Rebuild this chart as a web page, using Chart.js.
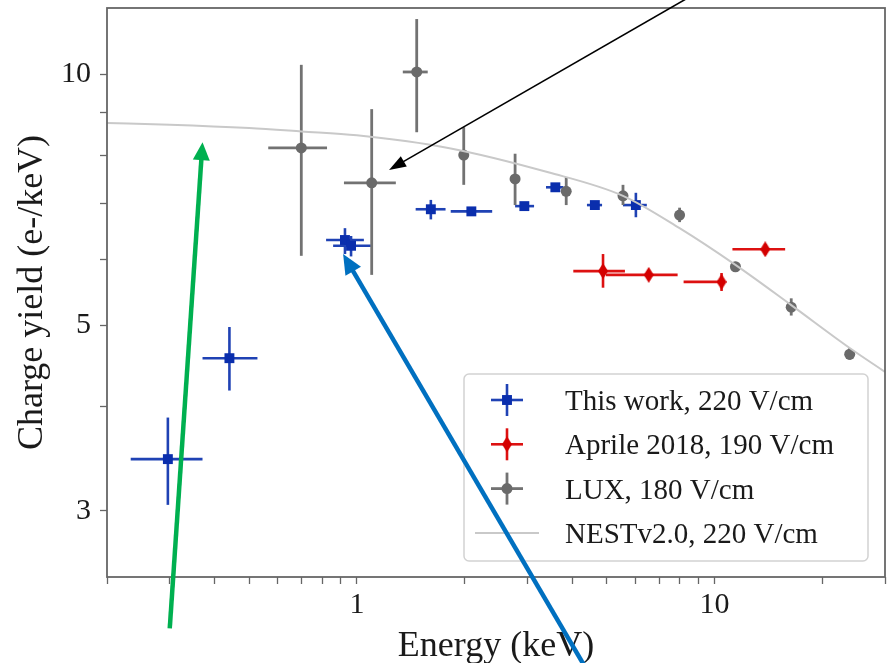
<!DOCTYPE html>
<html><head><meta charset="utf-8">
<script src="https://cdn.jsdelivr.net/npm/chart.js@4/dist/chart.umd.min.js"></script>
<style>html,body{margin:0;padding:0;background:#fff}#wrap{width:893px;height:663px}</style>
</head><body><div id="wrap"><canvas id="c" width="893" height="663"></canvas></div>
<script>
// ---- Data (energy in keV, charge yield in e-/keV) ----
const thisWorkE      = [0.296, 0.440, 0.926, 0.963, 1.61, 2.09, 2.94, 3.59, 4.63, 6.03];
const thisWorkELow   = [0.233, 0.370, 0.820, 0.858, 1.46, 1.83, 2.77, 3.38, 4.40, 5.55];
const thisWorkEHigh  = [0.370, 0.527, 1.046, 1.094, 1.77, 2.39, 3.13, 3.78, 4.85, 6.47];
const thisWorkQy     = [3.46, 4.57, 6.33, 6.23, 6.89, 6.85, 6.95, 7.32, 6.97, 6.97];
const thisWorkQyLow  = [3.05, 4.18, 6.09, 6.05, 6.70, 6.80, 6.90, 7.26, 6.92, 6.74];
const thisWorkQyHigh = [3.88, 4.98, 6.54, 6.40, 7.07, 6.90, 7.00, 7.38, 7.02, 7.21];

const aprileE      = [4.88, 6.55, 10.47, 13.87];
const aprileELow   = [4.03, 4.97, 8.20, 11.23];
const aprileEHigh  = [5.62, 7.89, 10.67, 15.77];
const aprileQy     = [5.81, 5.75, 5.64, 6.17];
const aprileQyLow  = [5.55, 5.69, 5.50, 6.08];
const aprileQyHigh = [6.09, 5.81, 5.78, 6.26];

const luxE      = [0.699, 1.10, 1.47, 1.99, 2.77, 3.85, 5.55, 7.99, 11.45, 16.4, 23.9];
const luxELow   = [0.565, 0.92, 1.344, 1.99, 2.77, 3.85, 5.55, 7.99, 11.45, 16.4, 23.9];
const luxEHigh  = [0.825, 1.285, 1.578, 1.99, 2.77, 3.85, 5.55, 7.99, 11.45, 16.4, 23.9];
const luxQy     = [8.16, 7.41, 10.06, 8.00, 7.49, 7.24, 7.15, 6.78, 5.88, 5.26, 4.62];
const luxQyLow  = [6.06, 5.75, 8.52, 7.37, 6.97, 6.97, 6.97, 6.65, 5.80, 5.14, 4.55];
const luxQyHigh = [10.26, 9.08, 11.64, 8.64, 8.03, 7.53, 7.37, 6.92, 5.96, 5.39, 4.70];

const nestE  = [0.2, 0.3, 0.5, 0.7, 1.0, 1.8, 3.43, 5.55, 7.99, 11.45, 16.4, 23.9, 30];
const nestQy = [8.74, 8.70, 8.62, 8.54, 8.45, 8.16, 7.63, 7.15, 6.54, 5.91, 5.29, 4.70, 4.40];

const xTickValues = [0.2, 0.3, 0.4, 0.5, 0.6, 0.7, 0.8, 0.9, 1, 2, 3, 4, 5, 6, 7, 8, 9, 10, 20, 30];
const xTickLabels = ['', '', '', '', '', '', '', '', '1', '', '', '', '', '', '', '', '', '10', '', ''];
const yTickValues = [3, 4, 5, 6, 7, 8, 9, 10];
const yTickLabels = ['3', '', '5', '', '', '', '', '10'];

// annotation arrows (data coordinates: tail -> tip)
const arrowTailE  = [0.2996, 4.35, 8.6];
const arrowTailQy = [2.17, 1.95, 12.4];
const arrowTipE   = [0.370, 0.915, 1.23];
const arrowTipQy  = [8.29, 6.09, 7.68];

// ---- Styles ----
const serif = '"Liberation Serif", "Times New Roman", Times, serif';
const textColor = '#1a1a1a';
const axisColor = '#666666';
const arrowStyles = [
  {color: '#00b050', width: 4.5, headLen: 18, headWidth: 17},
  {color: '#0070c0', width: 4.5, headLen: 20, headWidth: 18},
  {color: '#000000', width: 1.6, headLen: 17, headWidth: 12}
];

function thinDiamond(color) {
  const c = document.createElement('canvas');
  c.width = 10; c.height = 16;
  const g = c.getContext('2d');
  g.fillStyle = color;
  g.beginPath(); g.moveTo(5, 0); g.lineTo(10, 8); g.lineTo(5, 16); g.lineTo(0, 8); g.closePath(); g.fill();
  return c;
}
const diamondImg = thinDiamond('#d40000');

function pts(xs, ys) { return xs.map((v, i) => ({x: v, y: ys[i]})); }

function drawMarker(ctx, ds, x, y) {
  ctx.save();
  ctx.fillStyle = ds.backgroundColor;
  const st = ds.pointStyle, r = ds.pointRadius;
  if (st === 'rect') {
    const s = r * Math.SQRT1_2;
    ctx.fillRect(x - s, y - s, 2 * s, 2 * s);
  } else if (st === 'circle') {
    ctx.beginPath(); ctx.arc(x, y, r, 0, Math.PI * 2); ctx.fill();
  } else if (st instanceof HTMLCanvasElement) {
    ctx.drawImage(st, x - st.width / 2, y - st.height / 2);
  }
  ctx.restore();
}

const errorBarPlugin = {
  id: 'errbars',
  beforeDatasetDraw(chart, args) {
    const ds = chart.data.datasets[args.index];
    if (!ds.errors) return;
    const {ctx, chartArea: a} = chart;
    const xs = chart.scales.x, ys = chart.scales.y, e = ds.errors;
    ctx.save();
    ctx.beginPath(); ctx.rect(a.left, a.top, a.right - a.left, a.bottom - a.top); ctx.clip();
    ctx.strokeStyle = ds.errorColor; ctx.lineWidth = ds.errorWidth;
    ds.data.forEach((p, i) => {
      const px = xs.getPixelForValue(p.x), py = ys.getPixelForValue(p.y);
      if (e.xLow[i] !== e.xHigh[i]) {
        ctx.beginPath();
        ctx.moveTo(xs.getPixelForValue(e.xLow[i]), py);
        ctx.lineTo(xs.getPixelForValue(e.xHigh[i]), py);
        ctx.stroke();
      }
      if (e.yLow[i] !== e.yHigh[i]) {
        ctx.beginPath();
        ctx.moveTo(px, ys.getPixelForValue(e.yLow[i]));
        ctx.lineTo(px, ys.getPixelForValue(e.yHigh[i]));
        ctx.stroke();
      }
    });
    ctx.restore();
  }
};

const framePlugin = {
  id: 'frame',
  afterDatasetsDraw(chart) {
    const {ctx, chartArea: a} = chart;
    ctx.save();
    ctx.strokeStyle = axisColor; ctx.lineWidth = 1.8;
    ctx.strokeRect(a.left, a.top, a.right - a.left, a.bottom - a.top);
    ctx.restore();
  }
};

const legendPlugin = {
  id: 'customLegend',
  afterDraw(chart) {
    const {ctx, chartArea: a} = chart;
    const w = 404, h = 187;
    const right = a.right - 17, bottom = a.bottom - 16;
    const left = right - w, top = bottom - h;
    ctx.save();
    ctx.beginPath();
    if (ctx.roundRect) ctx.roundRect(left, top, w, h, 5); else ctx.rect(left, top, w, h);
    ctx.fillStyle = 'rgba(255,255,255,0.85)'; ctx.fill();
    ctx.strokeStyle = '#d2d2d2'; ctx.lineWidth = 1.5; ctx.stroke();
    ctx.font = '29px ' + serif; ctx.fillStyle = textColor; ctx.textBaseline = 'alphabetic'; ctx.textAlign = 'left';
    chart.data.datasets.forEach((ds, i) => {
      const cy = top + 26 + i * 44.3;
      const cx = left + 43;
      if (ds.errors) {
        ctx.strokeStyle = ds.errorColor; ctx.lineWidth = ds.errorWidth;
        ctx.beginPath(); ctx.moveTo(cx - 16, cy); ctx.lineTo(cx + 16, cy); ctx.stroke();
        ctx.beginPath(); ctx.moveTo(cx, cy - 16); ctx.lineTo(cx, cy + 16); ctx.stroke();
        drawMarker(ctx, ds, cx, cy);
      } else {
        ctx.strokeStyle = ds.borderColor; ctx.lineWidth = ds.borderWidth;
        ctx.beginPath(); ctx.moveTo(left + 11, cy); ctx.lineTo(left + 75, cy); ctx.stroke();
      }
      ctx.fillStyle = textColor;
      ctx.fillText(ds.label, left + 101, cy + 10);
    });
    ctx.restore();
  }
};

const arrowPlugin = {
  id: 'arrows',
  afterDraw(chart) {
    const {ctx} = chart;
    const xs = chart.scales.x, ys = chart.scales.y;
    ctx.save();
    arrowTipE.forEach((_, i) => {
      const st = arrowStyles[i];
      const x0 = xs.getPixelForValue(arrowTailE[i]), y0 = ys.getPixelForValue(arrowTailQy[i]);
      const x1 = xs.getPixelForValue(arrowTipE[i]), y1 = ys.getPixelForValue(arrowTipQy[i]);
      const dx = x1 - x0, dy = y1 - y0, L = Math.hypot(dx, dy);
      const ux = dx / L, uy = dy / L;
      const bx = x1 - ux * st.headLen, by = y1 - uy * st.headLen;
      ctx.strokeStyle = st.color; ctx.fillStyle = st.color; ctx.lineWidth = st.width;
      ctx.beginPath(); ctx.moveTo(x0, y0); ctx.lineTo(bx + ux * 2, by + uy * 2); ctx.stroke();
      ctx.beginPath();
      ctx.moveTo(x1, y1);
      ctx.lineTo(bx - uy * st.headWidth / 2, by + ux * st.headWidth / 2);
      ctx.lineTo(bx + uy * st.headWidth / 2, by - ux * st.headWidth / 2);
      ctx.closePath(); ctx.fill();
    });
    ctx.restore();
  }
};

const ctx = document.getElementById('c').getContext('2d');
new Chart(ctx, {
  type: 'scatter',
  data: {
    datasets: [
      {
        label: 'This work, 220 V/cm', data: pts(thisWorkE, thisWorkQy),
        pointStyle: 'rect', pointRadius: 7, backgroundColor: '#0a2ead', borderColor: '#0a2ead', borderWidth: 0,
        errorColor: '#1f42b4', errorWidth: 2.6, order: 4,
        errors: {xLow: thisWorkELow, xHigh: thisWorkEHigh, yLow: thisWorkQyLow, yHigh: thisWorkQyHigh}
      },
      {
        label: 'Aprile 2018, 190 V/cm', data: pts(aprileE, aprileQy),
        pointStyle: diamondImg, pointRadius: 8, backgroundColor: '#d40000', borderColor: '#d40000', borderWidth: 0,
        errorColor: '#dd1111', errorWidth: 2.6, order: 3,
        errors: {xLow: aprileELow, xHigh: aprileEHigh, yLow: aprileQyLow, yHigh: aprileQyHigh}
      },
      {
        label: 'LUX, 180 V/cm', data: pts(luxE, luxQy),
        pointStyle: 'circle', pointRadius: 5.5, backgroundColor: '#6a6a6a', borderColor: '#6a6a6a', borderWidth: 0,
        errorColor: '#727272', errorWidth: 2.8, order: 2,
        errors: {xLow: luxELow, xHigh: luxEHigh, yLow: luxQyLow, yHigh: luxQyHigh}
      },
      {
        label: 'NESTv2.0, 220 V/cm', type: 'line', data: pts(nestE, nestQy),
        borderColor: '#c9c9c9', backgroundColor: '#c9c9c9', borderWidth: 2, pointRadius: 0,
        cubicInterpolationMode: 'monotone', fill: false, order: 1
      }
    ]
  },
  options: {
    responsive: false, animation: false, devicePixelRatio: 1,
    layout: {padding: {top: 8, right: 5, left: 0, bottom: 0}},
    plugins: {legend: {display: false}, tooltip: {enabled: false}},
    scales: {
      x: {
        type: 'logarithmic', min: 0.2, max: 30,
        afterBuildTicks: s => { s.ticks = xTickValues.map(v => ({value: v})); },
        afterFit: s => { s.height = 86; s.paddingLeft = 0; s.paddingRight = 0; },
        border: {display: false},
        grid: {drawOnChartArea: false, tickLength: 7, tickColor: axisColor, tickWidth: 1.3},
        ticks: {autoSkip: false, maxRotation: 0, minRotation: 0, padding: 3, color: textColor,
          font: {family: serif, size: 30},
          callback: (v) => { const i = xTickValues.indexOf(v); return i >= 0 ? xTickLabels[i] : ''; }},
        title: {display: true, text: 'Energy (keV)', color: textColor,
          font: {family: serif, size: 36, lineHeight: 0.93}, padding: {top: 0, bottom: 0}}
      },
      y: {
        type: 'logarithmic', min: 2.5, max: 12,
        afterBuildTicks: s => { s.ticks = yTickValues.map(v => ({value: v})); },
        afterFit: s => { s.width = 107; s.paddingTop = 0; s.paddingBottom = 0; },
        border: {display: false},
        grid: {drawOnChartArea: false, tickLength: 7, tickColor: axisColor, tickWidth: 1.3},
        ticks: {autoSkip: false, padding: 9, color: textColor,
          font: {family: serif, size: 30},
          callback: (v) => { const i = yTickValues.indexOf(v); return i >= 0 ? yTickLabels[i] : ''; }},
        title: {display: true, text: 'Charge yield (e-/keV)', color: textColor,
          font: {family: serif, size: 36, lineHeight: 1}, padding: {top: 15, bottom: 0}}
      }
    }
  },
  plugins: [errorBarPlugin, framePlugin, legendPlugin, arrowPlugin]
});
</script>
</body></html>
